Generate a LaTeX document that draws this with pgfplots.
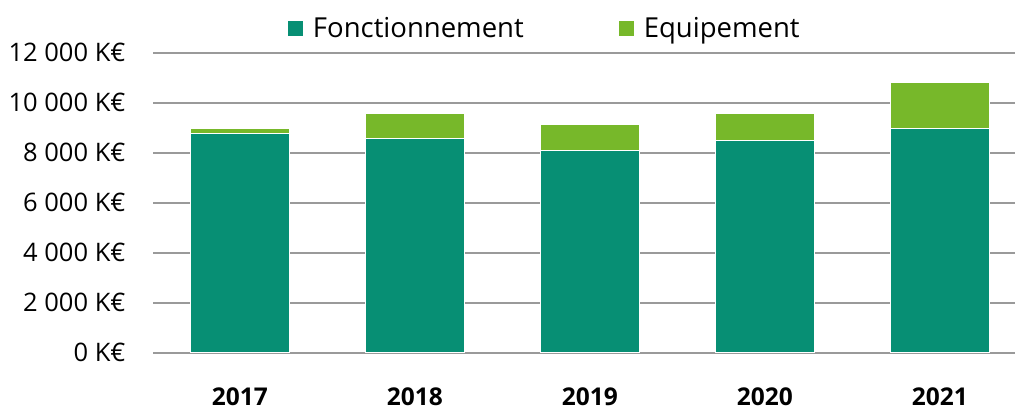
\documentclass[border=0pt]{standalone}
\usepackage{pgfplots}
\pgfplotsset{compat=1.18}
\usepackage{fontspec}
\setmainfont{Open Sans}
\definecolor{teal1}{HTML}{078F74}
\definecolor{green1}{HTML}{77B82A}
\definecolor{gridgray}{HTML}{9A9A9A}
\begin{document}
\begin{tikzpicture}[x=1pt,y=1pt]
\path[use as bounding box] (0,0) rectangle (1015,410);
\begin{axis}[
  at={(153pt,57.3pt)}, anchor=south west,
  scale only axis, width=862pt, height=300pt,
  ybar stacked, bar width=99pt,
  xmin=-0.497, xmax=4.43,
  ymin=0, ymax=12000,
  scaled y ticks=false,
  axis line style={draw=none},
  clip=false,
  xtick={0,1,2,3,4},
  xticklabels={2017,2018,2019,2020,2021},
  ytick={0,2000,4000,6000,8000,10000,12000},
  yticklabels={0 K€,2 000 K€,4 000 K€,6 000 K€,8 000 K€,10 000 K€,12 000 K€},
  major tick length=0pt,
  ymajorgrids,
  grid style={draw=gridgray, line width=1.8pt},
  yticklabel style={font=\fontsize{25.5}{30}\selectfont, anchor=east, xshift=-24pt},
  xticklabel style={font=\fontsize{24.5}{28}\selectfont\bfseries, anchor=north, yshift=-32pt},
  legend columns=2,
  legend style={draw=none, fill=none, at={(0.1566,1.082)}, anchor=west,
    inner sep=0pt, outer sep=0pt, nodes={inner sep=0pt},
    font=\fontsize{27.5}{32}\selectfont,
    /tikz/every odd column/.append style={column sep=10pt},
    /tikz/every even column/.append style={column sep=95pt}},
  legend image code/.code={\fill[#1,draw=none] (0pt,-7.5pt) rectangle (15pt,7.5pt);},
]
\addplot[fill=teal1, draw=white, line width=1pt] coordinates {(0,8780) (1,8560) (2,8070) (3,8470) (4,8980)};
\addplot[fill=green1, draw=white, line width=1pt] coordinates {(0,180) (1,990) (2,1040) (3,1080) (4,1820)};
\legend{Fonctionnement, Equipement}
\end{axis}
\end{tikzpicture}
\end{document}
